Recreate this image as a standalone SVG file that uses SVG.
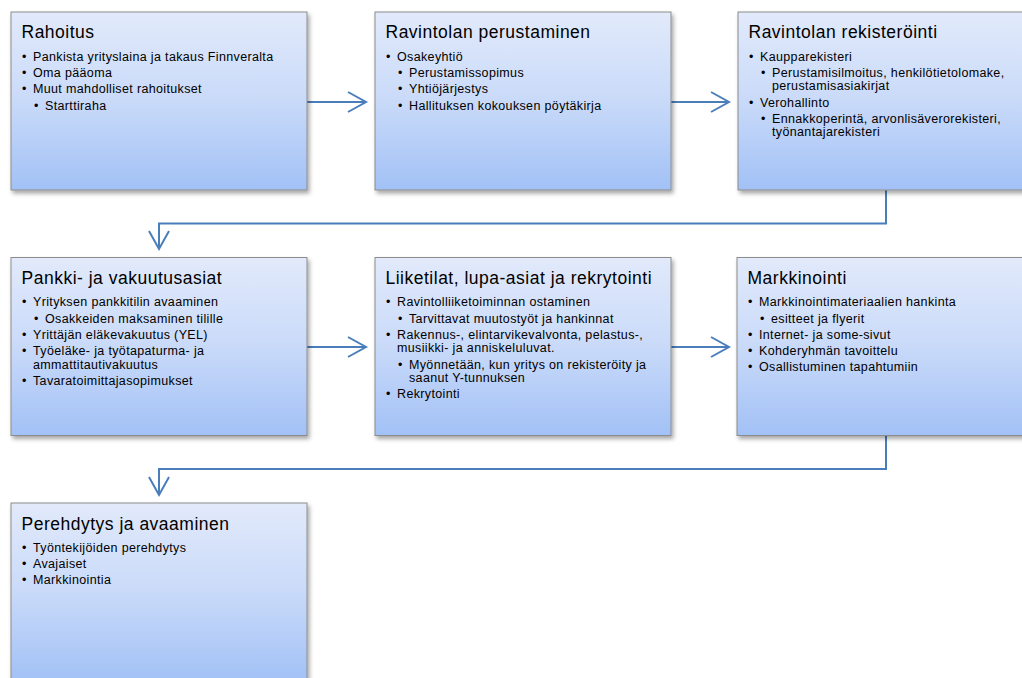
<svg xmlns="http://www.w3.org/2000/svg" width="1022" height="678" viewBox="0 0 1022 678">
  <style>
    .box { fill: url(#boxFill); stroke: #8c8c8c; stroke-width: 1; filter: url(#shadow); }
    .title { font-family: "Liberation Sans", Arial, sans-serif; font-size: 17.5px; fill: #000; letter-spacing: 0.5px; }
    .item { font-family: "Liberation Sans", Arial, sans-serif; font-size: 12.5px; fill: #000; letter-spacing: 0.35px; }
    .link { fill: none; stroke: #4a7ebb; stroke-width: 2; marker-end: url(#chevron); }
  </style>
  <defs>
    <linearGradient id="boxFill" x1="0" y1="0" x2="0" y2="1">
      <stop offset="0" stop-color="#e2eafb"/>
      <stop offset="0.5" stop-color="#c9daf9"/>
      <stop offset="1" stop-color="#a2c1f6"/>
    </linearGradient>
    <filter id="shadow" x="-5%" y="-5%" width="115%" height="115%">
      <feDropShadow dx="2" dy="3" stdDeviation="2" flood-color="#000" flood-opacity="0.35"/>
    </filter>
    <marker id="chevron" markerUnits="userSpaceOnUse" markerWidth="22" markerHeight="24" refX="19" refY="11" orient="auto" viewBox="0 0 22 24">
      <path d="M1,1 L19,11 L1,21" fill="none" stroke="#4a7ebb" stroke-width="2"/>
    </marker>
  </defs>

  <!-- connectors -->
  <g id="connectors">
    <path class="link" d="M307,102 H366"/>
    <path class="link" d="M671,102 H729"/>
    <path class="link" d="M886,190 V223.5 H159 V249"/>
    <path class="link" d="M307,347 H366"/>
    <path class="link" d="M671,347 H729"/>
    <path class="link" d="M886,435 V469 H159 V495"/>
  </g>

  <!-- step 1 -->
  <g id="rahoitus">
    <rect class="box" x="11" y="12" width="296" height="178"/>
    <text class="title" x="21.5" y="38">Rahoitus</text>
    <text class="item" x="22" y="60.7">•</text><text class="item" x="33" y="60.7">Pankista yrityslaina ja takaus Finnveralta</text>
    <text class="item" x="22" y="77">•</text><text class="item" x="33" y="77">Oma pääoma</text>
    <text class="item" x="22" y="93.3">•</text><text class="item" x="33" y="93.3">Muut mahdolliset rahoitukset</text>
    <text class="item" x="34" y="109.6">•</text><text class="item" x="45" y="109.6">Starttiraha</text>
  </g>

  <!-- step 2 -->
  <g id="perustaminen">
    <rect class="box" x="375" y="12" width="296" height="178"/>
    <text class="title" x="385.5" y="38">Ravintolan perustaminen</text>
    <text class="item" x="386" y="60.7">•</text><text class="item" x="397" y="60.7">Osakeyhtiö</text>
    <text class="item" x="398" y="77">•</text><text class="item" x="409" y="77">Perustamissopimus</text>
    <text class="item" x="398" y="93.3">•</text><text class="item" x="409" y="93.3">Yhtiöjärjestys</text>
    <text class="item" x="398" y="109.6">•</text><text class="item" x="409" y="109.6">Hallituksen kokouksen pöytäkirja</text>
  </g>

  <!-- step 3 -->
  <g id="rekisterointi">
    <rect class="box" x="738" y="12" width="296" height="178"/>
    <text class="title" x="748.5" y="38">Ravintolan rekisteröinti</text>
    <text class="item" x="749" y="60.7">•</text><text class="item" x="760" y="60.7">Kaupparekisteri</text>
    <text class="item" x="761" y="77">•</text><text class="item" x="772" y="77">Perustamisilmoitus, henkilötietolomake,</text>
    <text class="item" x="772" y="90.4">perustamisasiakirjat</text>
    <text class="item" x="749" y="106.7">•</text><text class="item" x="760" y="106.7">Verohallinto</text>
    <text class="item" x="761" y="123">•</text><text class="item" x="772" y="123">Ennakkoperintä, arvonlisäverorekisteri,</text>
    <text class="item" x="772" y="136.4">työnantajarekisteri</text>
  </g>

  <!-- step 4 -->
  <g id="pankki">
    <rect class="box" x="11" y="257.5" width="296" height="178"/>
    <text class="title" x="21.5" y="283.5">Pankki- ja vakuutusasiat</text>
    <text class="item" x="22" y="306.2">•</text><text class="item" x="33" y="306.2">Yrityksen pankkitilin avaaminen</text>
    <text class="item" x="34" y="322.5">•</text><text class="item" x="45" y="322.5">Osakkeiden maksaminen tilille</text>
    <text class="item" x="22" y="338.8">•</text><text class="item" x="33" y="338.8">Yrittäjän eläkevakuutus (YEL)</text>
    <text class="item" x="22" y="355.1">•</text><text class="item" x="33" y="355.1">Työeläke- ja työtapaturma- ja</text>
    <text class="item" x="33" y="368.5">ammattitautivakuutus</text>
    <text class="item" x="22" y="384.8">•</text><text class="item" x="33" y="384.8">Tavaratoimittajasopimukset</text>
  </g>

  <!-- step 5 -->
  <g id="liiketilat">
    <rect class="box" x="375" y="257.5" width="296" height="178"/>
    <text class="title" x="385.5" y="283.5">Liiketilat, lupa-asiat ja rekrytointi</text>
    <text class="item" x="386" y="306.2">•</text><text class="item" x="397" y="306.2">Ravintolliiketoiminnan ostaminen</text>
    <text class="item" x="398" y="322.5">•</text><text class="item" x="409" y="322.5">Tarvittavat muutostyöt ja hankinnat</text>
    <text class="item" x="386" y="338.8">•</text><text class="item" x="397" y="338.8">Rakennus-, elintarvikevalvonta, pelastus-,</text>
    <text class="item" x="397" y="352.2">musiikki- ja anniskeluluvat.</text>
    <text class="item" x="398" y="368.5">•</text><text class="item" x="409" y="368.5">Myönnetään, kun yritys on rekisteröity ja</text>
    <text class="item" x="409" y="381.9">saanut Y-tunnuksen</text>
    <text class="item" x="386" y="398.2">•</text><text class="item" x="397" y="398.2">Rekrytointi</text>
  </g>

  <!-- step 6 -->
  <g id="markkinointi">
    <rect class="box" x="737" y="257.5" width="296" height="178"/>
    <text class="title" x="747.5" y="283.5">Markkinointi</text>
    <text class="item" x="748" y="306.2">•</text><text class="item" x="759" y="306.2">Markkinointimateriaalien hankinta</text>
    <text class="item" x="760" y="322.5">•</text><text class="item" x="771" y="322.5">esitteet ja flyerit</text>
    <text class="item" x="748" y="338.8">•</text><text class="item" x="759" y="338.8">Internet- ja some-sivut</text>
    <text class="item" x="748" y="355.1">•</text><text class="item" x="759" y="355.1">Kohderyhmän tavoittelu</text>
    <text class="item" x="748" y="371.4">•</text><text class="item" x="759" y="371.4">Osallistuminen tapahtumiin</text>
  </g>

  <!-- step 7 -->
  <g id="perehdytys">
    <rect class="box" x="11" y="503" width="296" height="178"/>
    <text class="title" x="21.5" y="530">Perehdytys ja avaaminen</text>
    <text class="item" x="22" y="551.7">•</text><text class="item" x="33" y="551.7">Työntekijöiden perehdytys</text>
    <text class="item" x="22" y="568">•</text><text class="item" x="33" y="568">Avajaiset</text>
    <text class="item" x="22" y="584.3">•</text><text class="item" x="33" y="584.3">Markkinointia</text>
  </g>
</svg>
